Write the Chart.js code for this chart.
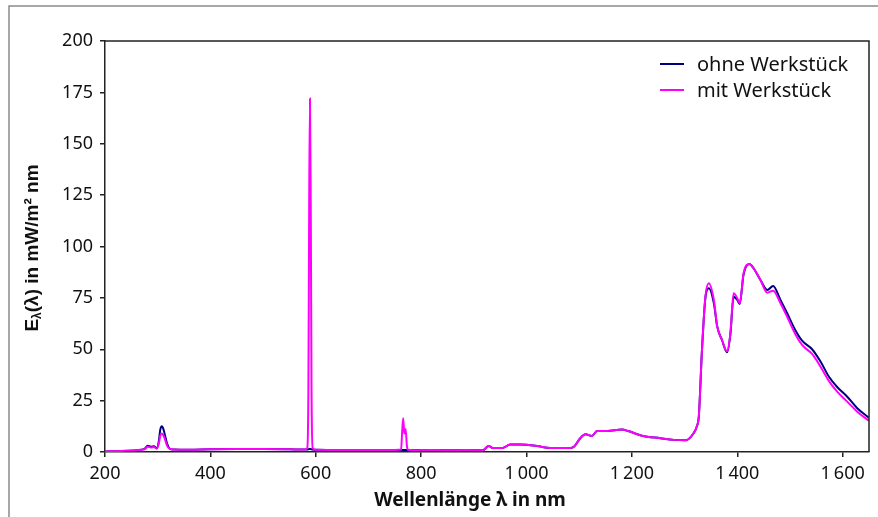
<!DOCTYPE html>
<html>
<head>
<meta charset="utf-8">
<script src="https://cdn.jsdelivr.net/npm/chart.js@4/dist/chart.umd.min.js"></script>
<style>
  html, body { margin: 0; padding: 0; background: #fff; }
  canvas { display: block; }
</style>
</head>
<body>
<canvas id="spektrum" width="878" height="517"></canvas>
<script>
/* Daten: Wellenlänge in nm, Bestrahlungsstärke in mW/m² nm */
const wavelengths = [
  200, 230, 260, 275, 281, 287, 293, 298, 302, 305, 308, 311, 314, 318, 323, 330,
  360, 400, 450, 500, 550, 580, 584, 586, 587.5, 589, 590.5, 592, 594, 600,
  650, 700, 750, 762, 764, 766, 768, 770.5, 773, 775, 800, 830, 860, 880, 900,
  918, 928, 937, 955, 969, 988, 1020, 1045, 1083, 1090, 1102, 1112, 1124, 1134,
  1153, 1181, 1193, 1219, 1254, 1280, 1302, 1317, 1324, 1327, 1333, 1339.5, 1346,
  1355.5, 1362, 1371, 1380.6, 1387, 1393, 1400, 1404.6, 1412, 1423, 1431, 1444,
  1457, 1468, 1482, 1494.7, 1510, 1523, 1542, 1558, 1574, 1590, 1608.7, 1627.7, 1650
];
const ohneWerkstueck = [
  0.3, 0.5, 0.9, 1.5, 3.0, 2.6, 2.8, 1.8, 5, 11, 12.5, 11, 8, 4, 1.6, 1.2,
  1.1, 1.3, 1.4, 1.4, 1.3, 1.2, 1.2, 1.3, 1.5, 1.5, 1.4, 1.3, 1.2, 1.1,
  1.0, 1.0, 1.0, 1.0, 1.0, 1.0, 1.0, 1.0, 1.0, 1.0, 0.9, 1.0, 0.8, 1.0, 0.9,
  1.0, 2.9, 1.9, 2.0, 3.6, 3.6, 2.9, 1.9, 1.9, 2.5, 6.7, 8.6, 7.8, 10.2,
  10.2, 10.9, 10.2, 7.9, 6.7, 5.9, 5.7, 9.1, 13, 17.2, 49.6, 75, 79.7,
  72.5, 61, 54.5, 48.5, 57.5, 75.6, 74, 72, 86.5, 91.5, 89.4, 83.7,
  78.8, 80.8, 74, 67.5, 59.4, 54.2, 50, 44, 36.6, 31.5, 26.9, 21.3, 16.7
];
const mitWerkstueck = [
  0.3, 0.5, 0.9, 1.3, 2.6, 2.2, 2.4, 1.6, 4, 8, 9, 8, 6, 3, 1.5, 1.2,
  1.1, 1.3, 1.4, 1.4, 1.3, 1.2, 2, 30, 120, 172, 120, 30, 2, 1.1,
  1.0, 1.0, 1.0, 1.2, 10, 16.4, 9, 11.2, 3, 1.1, 0.9, 1.0, 0.8, 1.0, 0.9,
  1.0, 2.9, 1.9, 2.0, 3.6, 3.6, 2.9, 1.9, 1.9, 2.5, 6.7, 8.6, 7.8, 10.2,
  10.2, 10.9, 10.2, 7.9, 6.7, 5.9, 5.7, 9.1, 13, 17.2, 49.6, 75.6, 82.1,
  74, 61, 54.5, 49, 58, 77.2, 74.8, 72.4, 87, 91.5, 89.4, 83.7,
  77.5, 78.5, 72.4, 65.8, 57.4, 52.1, 47.7, 41.5, 34.5, 29.3, 24.5, 19.6, 15.2
];
const xTickValues = [200, 400, 600, 800, 1000, 1200, 1400, 1600];
const yTickValues = [0, 25, 50, 75, 100, 125, 150, 175, 200];
const seriesNames = ['ohne Werkstück', 'mit Werkstück'];
const seriesColors = ['#000080', '#ff00ff'];

const tickFont = { family: '"Noto Sans", sans-serif', size: 18 };
const axisColor = '#222';

function formatNumber(v) {
  // Tausender mit schmalem Leerzeichen, wie "1 000"
  if (v >= 1000) {
    const s = String(v);
    return s.slice(0, s.length - 3) + '\u2009' + s.slice(-3);
  }
  return String(v);
}

// Rahmen, Legende und Achsentitel selbst zeichnen
const decorPlugin = {
  id: 'decor',
  afterDraw(chart) {
    const ctx = chart.ctx;
    const a = chart.chartArea;
    ctx.save();

    // äußerer Rahmen (links, oben)
    ctx.strokeStyle = '#8a8a8a';
    ctx.lineWidth = 1.5;
    ctx.beginPath();
    ctx.moveTo(9, 517);
    ctx.lineTo(9, 6);
    ctx.lineTo(878, 6);
    ctx.stroke();

    // Plotrahmen oben und rechts
    ctx.strokeStyle = axisColor;
    ctx.lineWidth = 1.5;
    ctx.beginPath();
    ctx.moveTo(a.left, a.top);
    ctx.lineTo(a.right, a.top);
    ctx.lineTo(a.right, a.bottom);
    ctx.stroke();

    // Legende
    ctx.font = '20px "Noto Sans", sans-serif';
    ctx.textBaseline = 'middle';
    ctx.textAlign = 'left';
    const legendY = [64, 90];
    seriesNames.forEach((name, i) => {
      ctx.strokeStyle = seriesColors[i];
      ctx.lineWidth = 2;
      ctx.beginPath();
      ctx.moveTo(660, legendY[i]);
      ctx.lineTo(684, legendY[i]);
      ctx.stroke();
      ctx.fillStyle = '#111';
      ctx.fillText(name, 697, legendY[i] + 1);
    });

    // x-Achsentitel
    ctx.font = 'bold 19px "Noto Sans", sans-serif';
    ctx.textAlign = 'center';
    ctx.fillStyle = '#111';
    ctx.fillText('Wellenlänge λ in nm', 470, 501);

    // y-Achsentitel mit Index
    ctx.translate(33, 248);
    ctx.rotate(-Math.PI / 2);
    const big = 'bold 19px "Liberation Sans", Arial, sans-serif';
    const small = 'bold 12px "Liberation Sans", Arial, sans-serif';
    const parts = [
      { t: 'E', f: big, dy: 0 },
      { t: 'λ', f: small, dy: 5 },
      { t: '(λ) in mW/m² nm', f: big, dy: 0 }
    ];
    let total = 0;
    parts.forEach(p => { ctx.font = p.f; p.w = ctx.measureText(p.t).width; total += p.w; });
    let x = -total / 2;
    ctx.textAlign = 'left';
    parts.forEach(p => {
      ctx.font = p.f;
      ctx.fillText(p.t, x, p.dy);
      x += p.w;
    });
    ctx.restore();
  }
};

document.addEventListener('DOMContentLoaded', function() {
  const ctx = document.getElementById('spektrum');
  new Chart(ctx, {
    type: 'line',
    data: {
      datasets: [
        {
          label: seriesNames[0],
          data: wavelengths.map((w, i) => ({ x: w, y: ohneWerkstueck[i] })),
          borderColor: seriesColors[0],
          borderWidth: 2,
          order: 1
        },
        {
          label: seriesNames[1],
          data: wavelengths.map((w, i) => ({ x: w, y: mitWerkstueck[i] })),
          borderColor: seriesColors[1],
          borderWidth: 2,
          order: 0
        }
      ]
    },
    options: {
      responsive: false,
      animation: false,
      devicePixelRatio: 1,
      layout: { padding: { top: 41, right: 9, left: 0, bottom: 0 } },
      elements: {
        point: { radius: 0 },
        line: { cubicInterpolationMode: 'monotone' }
      },
      plugins: {
        legend: { display: false },
        tooltip: { enabled: false }
      },
      scales: {
        x: {
          type: 'linear',
          min: 200,
          max: 1650,
          afterBuildTicks: s => { s.ticks = xTickValues.map(v => ({ value: v })); },
          afterFit: s => { s.height = 65; },
          ticks: {
            font: tickFont,
            color: '#111',
            padding: 6,
            maxRotation: 0,
            callback: v => formatNumber(v)
          },
          grid: { drawOnChartArea: false, tickLength: 5, color: axisColor, lineWidth: 1.5 },
          border: { color: axisColor, width: 1.5 }
        },
        y: {
          min: 0,
          max: 200,
          afterBuildTicks: s => { s.ticks = yTickValues.map(v => ({ value: v })); },
          afterFit: s => { s.width = 105; },
          ticks: {
            font: tickFont,
            color: '#111',
            padding: 7,
            callback: v => formatNumber(v)
          },
          grid: { drawOnChartArea: false, tickLength: 5, color: axisColor, lineWidth: 1.5 },
          border: { color: axisColor, width: 1.5 }
        }
      }
    },
    plugins: [decorPlugin]
  });
});
</script>
</body>
</html>
